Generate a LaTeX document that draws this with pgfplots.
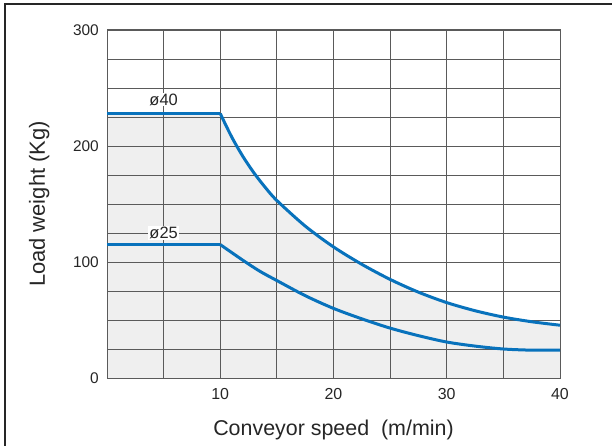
\documentclass[border=0pt]{standalone}
\usepackage{pgfplots}
\pgfplotsset{compat=1.18}
\usepackage{fontspec}
\setmainfont{Liberation Sans}
\definecolor{curveblue}{RGB}{8,114,188}
\definecolor{gridgray}{RGB}{90,90,90}
\definecolor{fillgray}{RGB}{239,239,239}
\pgfplotsset{
	chartbox/.style={
		at={(107bp,68bp)}, anchor=south west,
		scale only axis, width=453bp, height=348bp,
		xmin=0, xmax=40, ymin=0, ymax=300,
	},
}
\begin{document}
\begin{tikzpicture}
\useasboundingbox (0,0) rectangle (612bp,446bp);
\draw[line width=2bp, black!85] (4.5bp,0) -- (4.5bp,441.5bp) -- (612bp,441.5bp);
% background axis: shaded region under the 40 mm curve
\begin{axis}[chartbox, hide axis]
\addplot[draw=none, fill=fillgray] coordinates {(0,0) (0,228) (10,228) (10,0)} \closedcycle;
\addplot[smooth, draw=none, fill=fillgray] coordinates {
	(10,228) (11,208) (12,191) (13,176.5) (14,164) (15,153) (17.5,131) (20,113)
	(22.5,98) (25,85) (27.5,74) (30,65) (32.5,58) (35,52.5) (37.5,48.5) (40,45.5)} \closedcycle;
\end{axis}
\begin{axis}[
	chartbox,
	xtick={10,20,30,40}, minor xtick={5,15,25,35},
	ytick={0,100,200,300}, minor ytick={25,50,75,125,150,175,225,250,275},
	grid=both,
	major grid style={draw=gridgray, line width=0.9bp},
	minor grid style={draw=gridgray, line width=0.9bp},
	axis line style={draw=gridgray, line width=1bp},
	major tick length=0pt, minor tick length=0pt,
	/pgf/number format/assume math mode=true,
	ticklabel style={text=black!85, inner sep=0pt},
	xticklabel style={font=\fontsize{16}{17}\selectfont, anchor=base, yshift=-21.5bp},
	yticklabel style={font=\fontsize{15.5}{16}\selectfont, anchor=east, xshift=-8bp},
	xlabel={Conveyor speed\ \ (m/min)},
	xlabel style={at={(axis description cs:0.5,-0.1638)}, anchor=base, inner sep=0pt,
		font=\fontsize{21.5}{22}\selectfont, text=black!85},
	ylabel={Load weight (Kg)},
	ylabel style={at={(axis description cs:-0.1369,0.5)}, anchor=base, inner sep=0pt,
		font=\fontsize{22}{23}\selectfont, text=black!85},
]
% diameter 40
\addplot[curveblue, line width=3bp] coordinates {(0,228) (10,228)};
\addplot[smooth, curveblue, line width=3bp] coordinates {
	(10,228) (11,208) (12,191) (13,176.5) (14,164) (15,153) (17.5,131) (20,113)
	(22.5,98) (25,85) (27.5,74) (30,65) (32.5,58) (35,52.5) (37.5,48.5) (40,45.5)};
% diameter 25
\addplot[curveblue, line width=3bp] coordinates {(0,115) (10,115)};
\addplot[smooth, curveblue, line width=3bp] coordinates {
	(10,115) (12,101.5) (13.5,92) (15,84) (17.5,71) (20,60) (22.5,51)
	(25,43) (27.5,36.5) (30,31) (32.5,27.5) (35,25) (37.5,24) (40,24)};
\node[fill=white, inner sep=1bp, font=\fontsize{16.5}{17}\selectfont, text=black!85] at (axis cs:5,240) {ø40};
\node[fill=white, inner sep=1bp, font=\fontsize{16.5}{17}\selectfont, text=black!85] at (axis cs:5,125) {ø25};
\end{axis}
\end{tikzpicture}
\end{document}
